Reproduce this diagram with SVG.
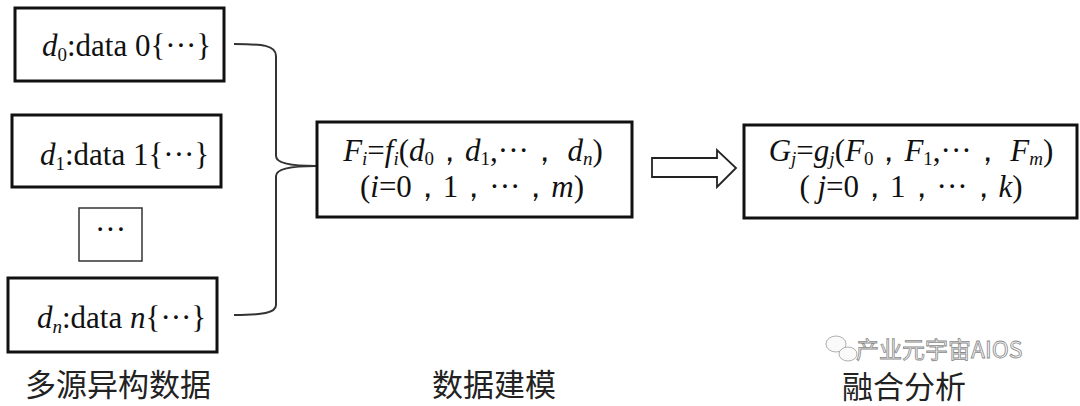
<svg xmlns="http://www.w3.org/2000/svg" width="1080" height="406" viewBox="0 0 1080 406">
<style>
.box{fill:#fff;stroke:#111;stroke-width:3}
.thin{fill:#fff;stroke:#333;stroke-width:1.5}
.t{font-family:"Liberation Serif","Times New Roman",serif;font-size:31px;fill:#111}
.m{font-family:"Liberation Serif","Times New Roman",serif;font-size:31px;fill:#111}
.i{font-style:italic}
.cn{font-family:"Noto Sans CJK SC","Noto Sans",sans-serif;font-size:31px;fill:#222}
.wm{font-family:"Noto Sans CJK SC","Noto Sans",sans-serif;font-size:23px;fill:#f6f6f6;stroke:#8a8a8a;stroke-width:0.8}
.con{fill:none;stroke:#333;stroke-width:2}
</style>
<g id="connectors">
<path class="con" d="M234,44 C262,44 276,45 276,56 L276,156 C276,163 290,166 316,166 C290,166 276,169 276,176 L276,305 C276,313 262,315 234,315"/>
<path id="arrow" d="M652,158 L717,158 L717,150 L736,168 L717,187 L717,177 L652,177 Z" fill="#fff" stroke="#222" stroke-width="1.8"/>
</g>
<g id="node-d0">
<rect class="box" x="15" y="8" width="209" height="73"/>
<text class="t" x="42" y="56"><tspan class="i">d</tspan><tspan font-size="19" dy="5">0</tspan><tspan dy="-5">:data 0{···}</tspan></text>
</g>
<g id="node-d1">
<rect class="box" x="12" y="115" width="209" height="72"/>
<text class="t" x="40" y="165"><tspan class="i">d</tspan><tspan font-size="19" dy="5">1</tspan><tspan dy="-5">:data 1{···}</tspan></text>
</g>
<g id="node-ellipsis">
<rect class="thin" x="79" y="208" width="63" height="53"/>
<text class="t" x="110.5" y="240" text-anchor="middle">···</text>
</g>
<g id="node-dn">
<rect class="box" x="8" y="278" width="209" height="74"/>
<text class="t" x="37" y="328"><tspan class="i">d</tspan><tspan class="i" font-size="19" dy="5">n</tspan><tspan dy="-5">:data </tspan><tspan class="i">n</tspan><tspan>{···}</tspan></text>
</g>
<g id="node-F">
<rect class="box" x="317" y="122" width="315" height="95"/>
<text class="m" x="473" y="161" text-anchor="middle"><tspan class="i">F</tspan><tspan class="i" font-size="19" dy="4">i</tspan><tspan dy="-4">=</tspan><tspan class="i">f</tspan><tspan class="i" font-size="19" dy="4">i</tspan><tspan dy="-4">(</tspan><tspan class="i">d</tspan><tspan font-size="19" dy="4">0</tspan><tspan dy="-4">，</tspan><tspan class="i">d</tspan><tspan font-size="19" dy="4">1</tspan><tspan dy="-4">,···， </tspan><tspan class="i">d</tspan><tspan class="i" font-size="19" dy="4">n</tspan><tspan dy="-4">)</tspan></text>
<text class="m" x="472" y="197" text-anchor="middle">(<tspan class="i">i</tspan>=0，1，···，<tspan class="i">m</tspan>)</text>
</g>
<g id="node-G">
<rect class="box" x="744" y="125" width="333" height="93"/>
<text class="m" x="911" y="161" text-anchor="middle"><tspan class="i">G</tspan><tspan class="i" font-size="19" dy="4">j</tspan><tspan dy="-4">=</tspan><tspan class="i">g</tspan><tspan class="i" font-size="19" dy="4">j</tspan><tspan dy="-4">(</tspan><tspan class="i">F</tspan><tspan font-size="19" dy="4">0</tspan><tspan dy="-4">，</tspan><tspan class="i">F</tspan><tspan font-size="19" dy="4">1</tspan><tspan dy="-4">,···， </tspan><tspan class="i">F</tspan><tspan class="i" font-size="19" dy="4">m</tspan><tspan dy="-4">)</tspan></text>
<text class="m" x="911" y="197" text-anchor="middle">( <tspan class="i">j</tspan>=0，1，···，<tspan class="i">k</tspan>)</text>
</g>
<g id="labels">
<text class="cn" x="118" y="396" text-anchor="middle">多源异构数据</text>
<text class="cn" x="494" y="396" text-anchor="middle">数据建模</text>
<text class="cn" x="904" y="398" text-anchor="middle">融合分析</text>
</g>
<g id="watermark">
<ellipse cx="836" cy="344" rx="10" ry="8" fill="#fafafa" stroke="#999" stroke-width="0.8"/>
<ellipse cx="848" cy="354" rx="9" ry="7" fill="#fafafa" stroke="#999" stroke-width="0.8"/>
<text class="wm" x="856" y="358">产业元宇宙AIOS</text>
</g>
</svg>
